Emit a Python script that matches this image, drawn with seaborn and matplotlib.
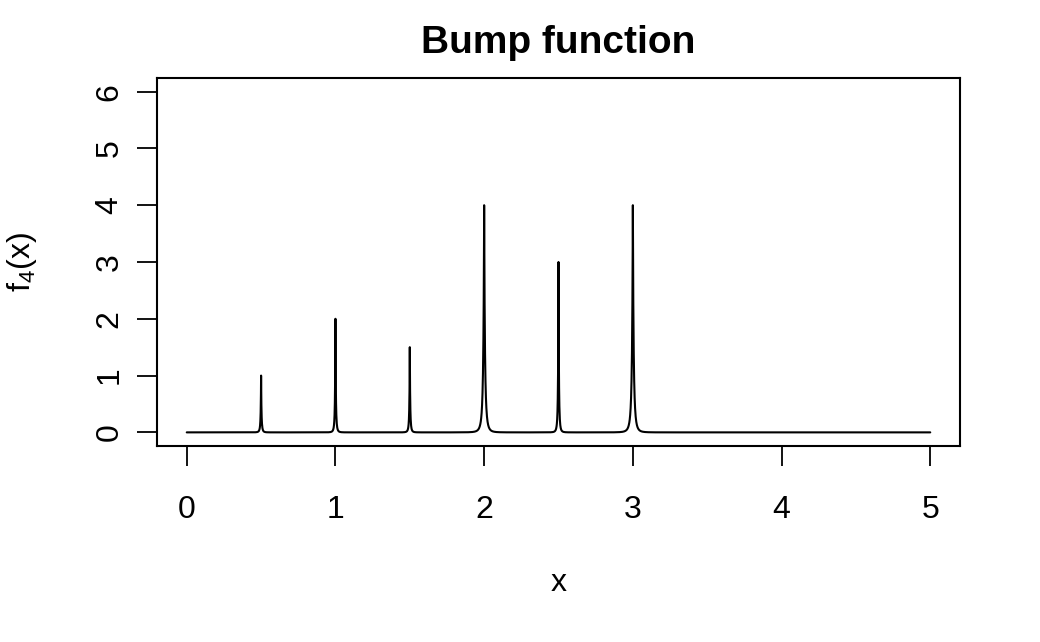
import numpy as np
import pandas as pd
import seaborn as sns
import matplotlib.pyplot as plt

# bump locations, heights and widths
peak_pos = [0.5, 1.0, 1.5, 2.0, 2.5, 3.0]
peak_height = [1.0, 2.0, 1.5, 4.0, 3.0, 4.0]
peak_width = [0.010, 0.010, 0.010, 0.020, 0.010, 0.020]

x_ticks = [0, 1, 2, 3, 4, 5]
y_ticks = [0, 1, 2, 3, 4, 5, 6]


def bump(x):
    # f4(x) = sum h_j * (1 + |(x - t_j)/w_j|)^-4
    y = np.zeros_like(x)
    for t, h, w in zip(peak_pos, peak_height, peak_width):
        y += h * (1 + np.abs((x - t) / w)) ** -4
    return y


xs = np.linspace(0, 5, 5001)
df = pd.DataFrame({"x": xs, "f4": bump(xs)})

sns.set_style("ticks")
plt.rcParams["font.family"] = ["Liberation Sans", "DejaVu Sans"]
plt.rcParams["mathtext.fontset"] = "custom"
plt.rcParams["mathtext.rm"] = "Liberation Sans"
plt.rcParams["text.color"] = "black"

fig = plt.figure(figsize=(10.4, 6.42), dpi=100)
ax = fig.add_axes([157 / 1040, 196 / 642, 803 / 1040, 368 / 642])

sns.lineplot(data=df, x="x", y="f4", ax=ax, color="black", linewidth=1.5)

ax.set_xlim(-0.2, 5.2)
ax.set_ylim(-0.24, 6.24)
ax.set_xticks(x_ticks)
ax.set_yticks(y_ticks)
ax.set_xticklabels([str(v) for v in x_ticks])
ax.set_yticklabels([str(v) for v in y_ticks], rotation=90, va="center")
ax.tick_params(axis="both", direction="out", length=14.5, width=1.3,
               labelsize=23, color="black", labelcolor="black")
ax.tick_params(axis="x", pad=21)
ax.tick_params(axis="y", pad=9)
for s in ax.spines.values():
    s.set_visible(True)
    s.set_linewidth(1.5)
    s.set_color("black")
ax.set_xlabel("")
ax.set_ylabel("")

fig.text(0.5 * (157 + 960) / 1040, (642 - 53) / 642, "Bump function",
         ha="center", va="baseline", fontsize=28, fontweight="bold",
         color="black")
fig.text(0.5 * (157 + 960) / 1040, (642 - 591) / 642, "x",
         ha="center", va="baseline", fontsize=23, color="black")
fig.text(22 / 1040, (642 - 262) / 642, r"f$_{4}$(x)", rotation=90,
         ha="center", va="center", fontsize=23, color="black")

fig.savefig("out.png", dpi=100, facecolor="white")
